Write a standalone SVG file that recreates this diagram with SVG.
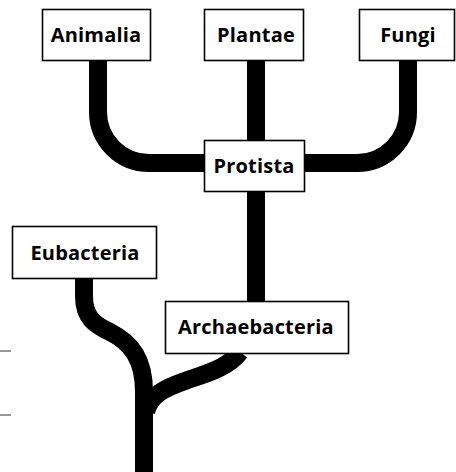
<svg xmlns="http://www.w3.org/2000/svg" width="456" height="472" viewBox="0 0 456 472">
<style>
.c{fill:none;stroke:#000;stroke-width:18}
.b{fill:#fff;stroke:#000;stroke-width:1.6}
.t{font-family:"Open Sans","DejaVu Sans",sans-serif;font-weight:700;font-size:20px;text-anchor:middle;fill:#000;letter-spacing:0.2px}
.tick{stroke:#333;stroke-width:1}
</style>
<rect width="456" height="472" fill="#fff"/>
<g id="connectors">
<path class="c" d="M98,61 V112 A51,51 0 0 0 149,163 H210"/>
<path class="c" d="M408,61 V112 A51,51 0 0 1 357,163 H300"/>
<path class="c" d="M256,61 V305"/>
<path class="c" d="M84,279 L84,296 C84,318 95,325 110,332 C132,343 144,360 144,392 V472"/>
<path class="c" d="M240,352 C228,368 205,374 185,381 C165,388 150,395 146,412"/>
<line class="tick" x1="0" y1="351" x2="11" y2="351"/>
<line class="tick" x1="0" y1="415" x2="11" y2="415"/>
</g>
<g id="animalia"><rect class="b" x="42.5" y="9.5" width="108" height="51"/><text class="t" x="96" y="42">Animalia</text></g>
<g id="plantae"><rect class="b" x="204.5" y="9.5" width="99" height="51"/><text class="t" x="256" y="42">Plantae</text></g>
<g id="fungi"><rect class="b" x="359.5" y="9.5" width="95" height="51"/><text class="t" x="408" y="42">Fungi</text></g>
<g id="protista"><rect class="b" x="204.5" y="140.5" width="100" height="51"/><text class="t" x="254" y="173">Protista</text></g>
<g id="eubacteria"><rect class="b" x="12.5" y="226.5" width="144" height="52"/><text class="t" x="85" y="260">Eubacteria</text></g>
<g id="archaebacteria"><rect class="b" x="165.5" y="301.5" width="183" height="52"/><text class="t" x="256" y="334">Archaebacteria</text></g>
</svg>
